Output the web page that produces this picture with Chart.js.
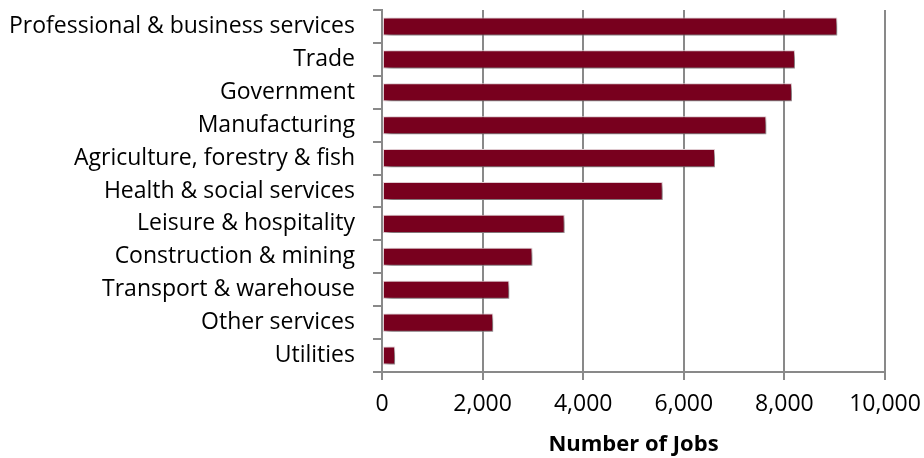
<!DOCTYPE html>
<html><head><meta charset="utf-8">
<script src="https://cdn.jsdelivr.net/npm/chart.js@4/dist/chart.umd.min.js"></script>
<style>html,body{margin:0;padding:0;background:#fff}#wrap{width:924px;height:458px}</style>
</head><body><div id="wrap"><canvas id="c"></canvas></div>
<script>
const categories = ["Professional & business services","Trade","Government","Manufacturing","Agriculture, forestry & fish","Health & social services","Leisure & hospitality","Construction & mining","Transport & warehouse","Other services","Utilities"];
const jobs = [9050, 8210, 8150, 7640, 6620, 5580, 3630, 2990, 2530, 2210, 260];
const xTicks = [0, 2000, 4000, 6000, 8000, 10000];
const xTitle = "Number of Jobs";

const shadowPlugin = {
  id: 'barShadow',
  beforeDatasetDraw(chart) {
    const ctx = chart.ctx;
    ctx.save();
    ctx.shadowColor = 'rgba(0,0,0,0.6)';
    ctx.shadowBlur = 6;
    ctx.shadowOffsetX = 3;
    ctx.shadowOffsetY = 3;
  },
  afterDatasetDraw(chart) { chart.ctx.restore(); }
};

const font = {family: "'Open Sans', sans-serif", size: 23};
new Chart(document.getElementById('c'), {
  type: 'bar',
  data: { labels: categories, datasets: [{ data: jobs, backgroundColor: '#78001e', borderColor: '#f3dce2', borderWidth: 1, borderSkipped: false, categoryPercentage: 1, barPercentage: 0.55 }] },
  options: {
    indexAxis: 'y', responsive: true, maintainAspectRatio: false, animation: false,
    layout: { padding: { left: 0, right: 39, top: 10, bottom: 0 } },
    plugins: { legend: { display: false }, tooltip: { enabled: false } },
    scales: {
      x: {
        min: 0, max: 10000,
        afterBuildTicks: s => { s.ticks = xTicks.map(v => ({value: v})); },
        afterFit: s => { s.height = 86; s.paddingLeft = 0; s.paddingRight = 0; },
        ticks: { color: '#000', font: font, padding: 11, maxRotation: 0,
          callback: v => v.toLocaleString('en-US') },
        grid: { color: '#898989', lineWidth: 2, tickLength: 8 },
        border: { color: '#898989', width: 2 },
        title: { display: true, text: xTitle, color: '#000', font: {family: font.family, size: 22, weight: 'bold'}, padding: {top: 0, bottom: 0} }
      },
      y: {
        afterFit: s => { s.width = 382; s.paddingTop = 0; s.paddingBottom = 0; },
        ticks: { color: '#000', font: font, padding: 18, autoSkip: false },
        grid: { drawOnChartArea: false, color: '#898989', lineWidth: 2, tickLength: 9, offset: true },
        border: { color: '#898989', width: 2 }
      }
    }
  },
  plugins: [shadowPlugin]
});
</script></body></html>
